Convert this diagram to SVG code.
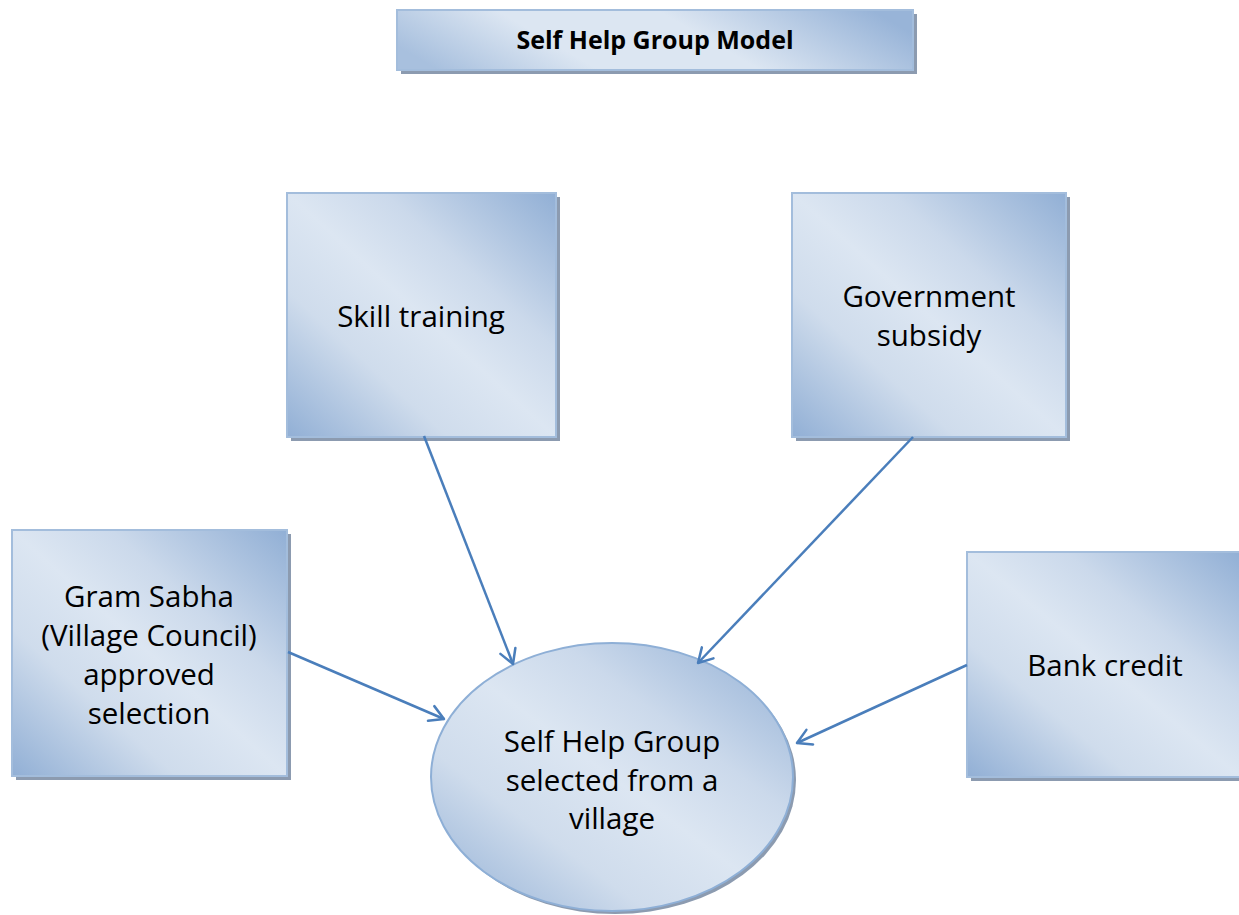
<svg xmlns="http://www.w3.org/2000/svg" width="1239" height="915" viewBox="0 0 1239 915">
<style>
.box{fill:url(#g);stroke:#a3bddc;stroke-width:2}
.sh{fill:#8c9bb0}
.t{font-family:"Open Sans","Liberation Sans",sans-serif;font-size:29.5px;fill:#000;text-anchor:middle}
.tt{font-family:"Open Sans","Liberation Sans",sans-serif;font-size:25px;font-weight:bold;fill:#000;text-anchor:middle}
.c{stroke:#4a7ebb;stroke-width:2.5;fill:none;marker-end:url(#a)}
</style>
<defs>
<linearGradient id="g" x1="0" y1="1" x2="1" y2="0">
<stop offset="0" stop-color="#91afd5"/>
<stop offset="0.3" stop-color="#cfdcec"/>
<stop offset="0.5" stop-color="#dce6f2"/>
<stop offset="0.68" stop-color="#cbd9eb"/>
<stop offset="1" stop-color="#91afd5"/>
</linearGradient>
<linearGradient id="gt" x1="0" y1="0.6" x2="1" y2="0.4">
<stop offset="0" stop-color="#a8c0de"/>
<stop offset="0.3" stop-color="#dce6f2"/>
<stop offset="0.6" stop-color="#dce6f2"/>
<stop offset="1" stop-color="#98b4d8"/>
</linearGradient>
<marker id="a" markerUnits="userSpaceOnUse" markerWidth="24" markerHeight="24" viewBox="0 0 24 24" refX="20" refY="12" orient="auto">
<path d="M6,4 L20,12 L6,20" fill="none" stroke="#4a7ebb" stroke-width="2.5" stroke-linecap="round" stroke-linejoin="round"/>
</marker>
</defs>
<g id="title">
<rect class="sh" x="401" y="14" width="516" height="60"/>
<rect x="397" y="10" width="516" height="60" fill="url(#gt)" stroke="#a3bddc" stroke-width="2"/>
<text class="tt" x="655" y="49">Self Help Group Model</text>
</g>
<g id="skill">
<rect class="sh" x="291" y="197" width="269" height="244"/>
<rect class="box" x="287" y="193" width="269" height="244"/>
<text class="t" x="421" y="327">Skill training</text>
</g>
<g id="gov">
<rect class="sh" x="796" y="197" width="274" height="244"/>
<rect class="box" x="792" y="193" width="274" height="244"/>
<text class="t" x="929" y="307">Government</text>
<text class="t" x="929" y="346">subsidy</text>
</g>
<g id="gram">
<rect class="sh" x="16" y="534" width="275" height="246"/>
<rect class="box" x="12" y="530" width="275" height="246"/>
<text class="t" x="149" y="607">Gram Sabha</text>
<text class="t" x="149" y="646">(Village Council)</text>
<text class="t" x="149" y="685">approved</text>
<text class="t" x="149" y="724">selection</text>
</g>
<g id="bank">
<rect class="sh" x="971" y="556" width="272" height="225"/>
<rect class="box" x="967" y="552" width="274" height="225"/>
<text class="t" x="1105" y="676">Bank credit</text>
</g>
<g id="shg">
<ellipse cx="615" cy="780" rx="181" ry="134" fill="#8c9bb0"/>
<ellipse cx="612" cy="777" rx="181" ry="134" fill="url(#g)" stroke="#8eafd6" stroke-width="2"/>
<text class="t" x="612" y="752">Self Help Group</text>
<text class="t" x="612" y="791">selected from a</text>
<text class="t" x="612" y="829">village</text>
</g>
<g id="connectors">
<line class="c" x1="424" y1="436" x2="513" y2="664"/>
<line class="c" x1="913" y1="437" x2="698" y2="663"/>
<line class="c" x1="288" y1="652" x2="444" y2="719"/>
<line class="c" x1="967" y1="665" x2="797" y2="743"/>
</g>
</svg>
